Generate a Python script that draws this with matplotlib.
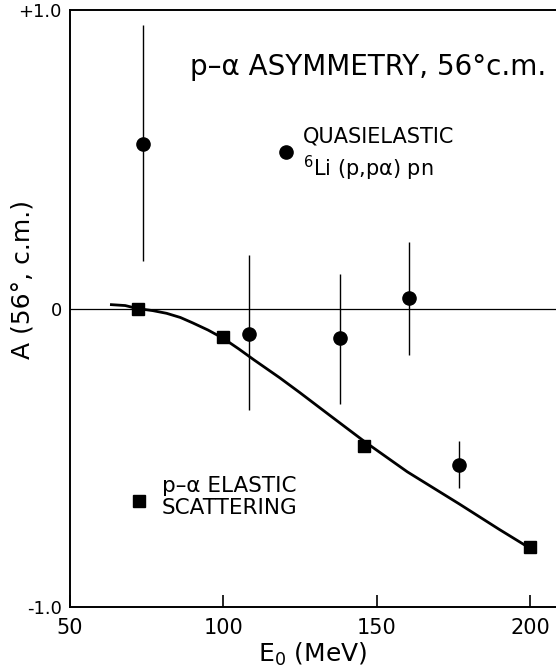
import numpy as np
import matplotlib.pyplot as plt

# quasielastic 6Li(p,p alpha)pn
qe_energy = [73.8, 108.3, 138.0, 160.4, 177.0]
qe_asym = [0.55, -0.085, -0.10, 0.034, -0.523]
qe_err_hi = [0.40, 0.265, 0.215, 0.19, 0.078]
qe_err_lo = [0.39, 0.255, 0.22, 0.19, 0.077]

# p-alpha elastic scattering
el_energy = [72.2, 100.0, 146.0, 200.0]
el_asym = [0.0, -0.094, -0.462, -0.80]

# smooth curve through elastic data
curve_energy = [63.5, 68, 72, 77, 81.5, 86, 90, 95, 100, 105, 110, 118.4,
                125, 135, 146.1, 160, 177, 190, 200]
curve_asym = [0.013, 0.01, 0.0, -0.007, -0.016, -0.03, -0.048, -0.072, -0.10,
              -0.135, -0.172, -0.232, -0.282, -0.36, -0.446, -0.547, -0.655,
              -0.74, -0.803]

xticks = [50, 100, 150, 200]
yticks = [-1.0, 0.0, 1.0]
ylabels = ["-1.0", "0", "+1.0"]

fig = plt.figure(figsize=(5.56, 6.70), dpi=100)
ax = fig.add_axes([0.1259, 0.094, 0.8741, 0.891])

ax.axhline(0, color="black", lw=0.9, zorder=1)
ax.plot(curve_energy, curve_asym, color="black", lw=2.0, zorder=2)
ax.errorbar(qe_energy, qe_asym, yerr=[qe_err_lo, qe_err_hi], fmt="o",
            color="black", ms=9.5, elinewidth=1.0, capsize=0, zorder=3)
ax.plot(el_energy, el_asym, "s", color="black", ms=8.5, zorder=3)

ax.set_xlim(50, 208.5)
ax.set_ylim(-1.0, 1.0)
ax.set_xticks(xticks)
ax.set_yticks(yticks)
ax.set_yticklabels(ylabels)
ax.tick_params(axis="x", direction="in", length=9, width=1.2, labelsize=15, pad=8)
ax.tick_params(axis="y", length=0, labelsize=13, pad=6)
for s in ["left", "bottom", "top"]:
    ax.spines[s].set_linewidth(1.4)
ax.spines["right"].set_visible(False)

ax.set_xlabel("E$_0$ (MeV)", fontsize=18, labelpad=2)
ax.set_ylabel("A (56\u00b0, c.m.)", fontsize=18)
ax.yaxis.set_label_coords(-0.074, 0.548)

ax.text(0.98, 0.905, "p\u2013\u03b1 ASYMMETRY, 56\u00b0c.m.", transform=ax.transAxes,
        ha="right", va="center", fontsize=20)

ax.plot([120.5], [0.525], "o", color="black", ms=9.5)
ax.text(126, 0.515, "QUASIELASTIC\n$^6$Li (p,p\u03b1) pn", ha="left", va="center",
        fontsize=15, linespacing=1.3)

ax.plot([72.5], [-0.645], "s", color="black", ms=8.5)
ax.text(80, -0.632, "p\u2013\u03b1 ELASTIC\nSCATTERING", ha="left", va="center",
        fontsize=15.5, linespacing=1.15)

fig.savefig("out.png", dpi=100)
